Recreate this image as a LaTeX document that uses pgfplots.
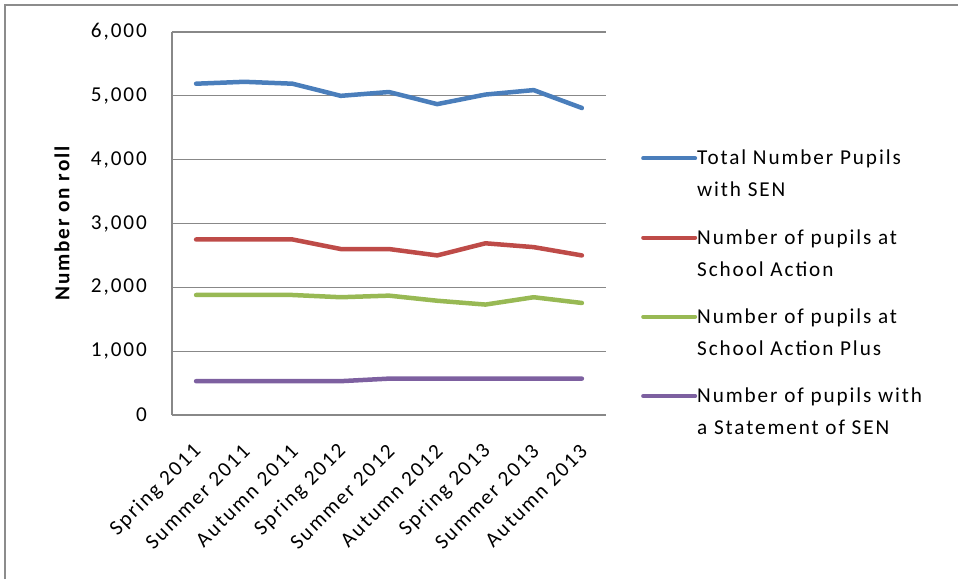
\documentclass[border=0pt]{standalone}
\usepackage{fontspec}
\setmainfont[LetterSpace=9]{Carlito}
\usepackage{pgfplots}
\pgfplotsset{compat=1.18}
\definecolor{sblue}{HTML}{4A7EBB}
\definecolor{sred}{HTML}{BE4B48}
\definecolor{sgreen}{HTML}{98B954}
\definecolor{spurple}{HTML}{7D60A0}
\definecolor{gridgray}{HTML}{888888}
\definecolor{framegray}{HTML}{8C8C8C}
\begin{document}
\begin{tikzpicture}
\path[use as bounding box] (-172pt,-164pt) rectangle (786pt,415pt);
\draw[color=framegray, line width=2.5pt] (-167pt,-164pt) -- (-167pt,410pt) -- (786pt,410pt);
\begin{axis}[
  scale only axis, width=434pt, height=383pt,
  at={(0,0)}, anchor=south west,
  xmin=-0.5, xmax=8.5, ymin=0, ymax=6000,
  xtick={0,...,8},
  xticklabels={Spring 2011,Summer 2011,Autumn 2011,Spring 2012,Summer 2012,Autumn 2012,Spring 2013,Summer 2013,Autumn 2013},
  ytick={0,1000,...,6000},
  ymajorgrids, grid style={gridgray, line width=1.2pt},
  axis x line*=bottom, axis y line*=left,
  axis line style={-, gridgray, line width=1.2pt},
  tick style={draw=none},
  /pgf/number format/assume math mode=true,
  /pgf/number format/1000 sep={,},
  tick label style={font=\fontsize{21.2}{24}\selectfont},
  yticklabel style={anchor=east, inner sep=0pt, xshift=-25pt},
  xticklabel style={xshift=2pt, yshift=-33pt, rotate=45, anchor=east, inner sep=0pt},
  every axis y label/.style={at={(axis description cs:-0.2535,0.5)}, rotate=90, anchor=center, font=\fontsize{21.2}{24}\selectfont\bfseries},
  ylabel={Number on roll},
  legend style={at={(1.0737,0.6971)}, anchor=north west, draw=none, fill=none,
    font=\fontsize{21.2}{32}\selectfont, nodes={align=left, inner sep=0pt}, row sep=31pt},
  legend cell align=left,
  legend image code/.code={\draw[#1, line width=4pt] (0pt,16pt) -- (52pt,16pt);},
  every axis plot/.append style={line width=4.5pt, line cap=round, line join=round},
]
\addplot[sblue] coordinates {(0,5190) (1,5220) (2,5190) (3,5000) (4,5060) (5,4870) (6,5020) (7,5090) (8,4810)};
\addlegendentry{Total Number Pupils\\with SEN}
\addplot[sred] coordinates {(0,2750) (1,2750) (2,2750) (3,2600) (4,2600) (5,2500) (6,2690) (7,2630) (8,2500)};
\addlegendentry{Number of pupils at\\School Action}
\addplot[sgreen] coordinates {(0,1880) (1,1880) (2,1880) (3,1845) (4,1870) (5,1790) (6,1730) (7,1845) (8,1755)};
\addlegendentry{Number of pupils at\\School Action Plus}
\addplot[spurple] coordinates {(0,530) (1,530) (2,530) (3,530) (4,570) (5,570) (6,570) (7,570) (8,570)};
\addlegendentry{Number of pupils with\\a Statement of SEN}
\end{axis}
\end{tikzpicture}
\end{document}
